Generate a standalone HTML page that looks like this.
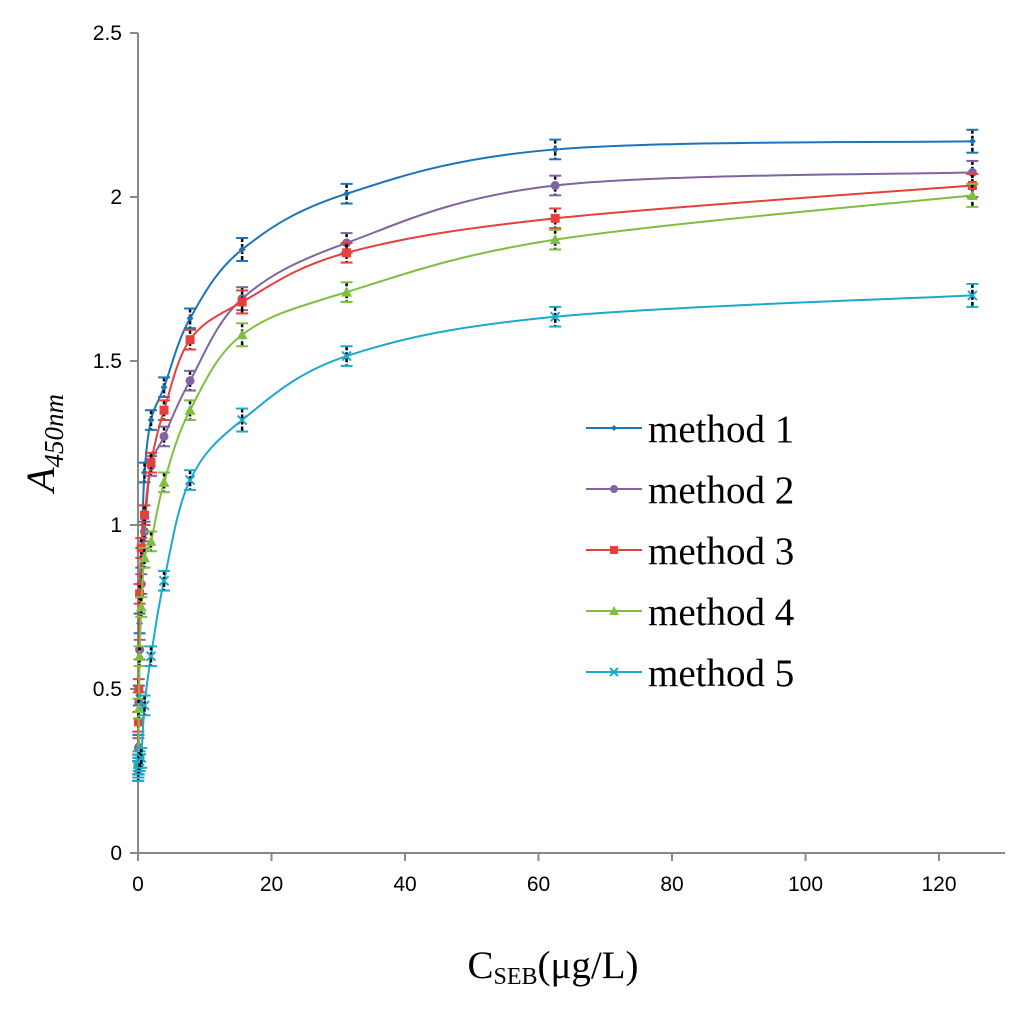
<!DOCTYPE html>
<html><head><meta charset="utf-8"><style>
html,body{margin:0;padding:0;background:#fff;}
svg{display:block;}
</style></head><body>
<svg id="chart" width="1024" height="1014" xmlns="http://www.w3.org/2000/svg">
<g id="axes"></g><g id="series"></g><g id="legend"></g>
<text transform="translate(54,443) rotate(-90)" text-anchor="middle" font-family="Liberation Serif, serif" font-style="italic" font-size="40">A<tspan font-size="27" dy="9">450nm</tspan></text>
<text x="553" y="978" text-anchor="middle" font-family="Liberation Serif, serif" font-size="39">C<tspan font-size="24" dy="6">SEB</tspan><tspan dy="-6">(μg/L)</tspan></text>
</svg>
<script>
const xs = [0.03,0.06,0.12,0.24,0.49,0.98,1.95,3.9,7.8,15.6,31.25,62.5,125];
const m1 = [0.25,0.33,0.48,0.70,0.90,1.16,1.32,1.42,1.63,1.84,2.01,2.145,2.17];
const m2 = [0.27,0.32,0.46,0.62,0.82,0.98,1.18,1.27,1.44,1.69,1.86,2.035,2.075];
const m3 = [0.27,0.40,0.50,0.79,0.93,1.03,1.19,1.35,1.565,1.68,1.83,1.935,2.035];
const m4 = [0.27,0.28,0.44,0.60,0.75,0.90,0.95,1.13,1.35,1.58,1.71,1.87,2.005];
const m5 = [0.25,0.26,0.27,0.28,0.29,0.45,0.60,0.83,1.137,1.32,1.515,1.635,1.70];
const errs = [0.03,0.03,0.03,0.03,0.03,0.03,0.03,0.03,0.03,0.035,0.03,0.03,0.035];
const xTicks = [0,20,40,60,80,100,120];
const yTicks = [0,0.5,1,1.5,2,2.5];
const names = ["method 1","method 2","method 3","method 4","method 5"];
const NS="http://www.w3.org/2000/svg";
const X = v => 138 + v*(939-138)/120;
const Y = v => 853 - v*328;
function mk(tag, attrs, parent){const e=document.createElementNS(NS,tag);for(const k in attrs)e.setAttribute(k,attrs[k]);parent.appendChild(e);return e;}
const axes=document.getElementById('axes');
const ax=mk('line',{x1:138,y1:33,x2:138,y2:853,stroke:'#888','stroke-width':2},axes);


const bx=mk('line',{x1:137,y1:853,x2:1005,y2:853,stroke:'#888','stroke-width':2},axes);


yTicks.forEach(t=>{
  mk('line',{x1:130,y1:Y(t),x2:138,y2:Y(t),stroke:'#888','stroke-width':2},axes);
  const tx=mk('text',{x:122,y:Y(t)+7,'text-anchor':'end','font-family':'Liberation Sans, sans-serif','font-size':21,fill:'#000'},axes);
  tx.textContent=t;
  
  
});
xTicks.forEach(t=>{
  mk('line',{x1:X(t),y1:853,x2:X(t),y2:861,stroke:'#888','stroke-width':2},axes);
  const tx=mk('text',{x:X(t),y:891,'text-anchor':'middle','font-family':'Liberation Sans, sans-serif','font-size':21,fill:'#000'},axes);
  tx.textContent=t;
  
  
});
const data=[m1,m2,m3,m4,m5];
const colors=['#1a74bb','#8064a2','#e5403b','#7fbf3f','#1ba9cf'];
const shapes=['diamond','circle','square','triangle','x'];
function marker(g,shape,cx,cy,c,s){
  if(shape==='diamond')mk('path',{d:`M${cx},${cy-s}L${cx+s},${cy}L${cx},${cy+s}L${cx-s},${cy}Z`,fill:c},g);
  else if(shape==='circle')mk('circle',{cx,cy,r:s,fill:c},g);
  else if(shape==='square')mk('rect',{x:cx-s,y:cy-s,width:2*s,height:2*s,fill:c},g);
  else if(shape==='triangle')mk('path',{d:`M${cx},${cy-s-1}L${cx+s+1},${cy+s}L${cx-s-1},${cy+s}Z`,fill:c},g);
  else mk('path',{d:`M${cx-s},${cy-s}L${cx+s},${cy+s}M${cx+s},${cy-s}L${cx-s},${cy+s}`,stroke:c,'stroke-width':2},g);
}
const sg=document.getElementById('series');
data.forEach((arr,i)=>{
  const g=mk('g',{},sg);
  
  
  const p=xs.map((x,j)=>[X(x),Y(arr[j])]);
  let d=`M${p[0][0]},${p[0][1]}`;
  for(let j=0;j<p.length-1;j++){
    const p0=p[Math.max(j-1,0)],p1=p[j],p2=p[j+1],p3=p[Math.min(j+2,p.length-1)];
    const c1=[p1[0]+(p2[0]-p0[0])/6,p1[1]+(p2[1]-p0[1])/6];
    const c2=[p2[0]-(p3[0]-p1[0])/6,p2[1]-(p3[1]-p1[1])/6];
    d+=`C${c1[0]},${c1[1]} ${c2[0]},${c2[1]} ${p2[0]},${p2[1]}`;
  }
  const ln=mk('path',{d,fill:'none',stroke:colors[i],'stroke-width':2},g);
  
  
  xs.forEach((x,j)=>{
    const cx=X(x),cy=Y(arr[j]),e=errs[j]*328;
    mk('line',{x1:cx,y1:cy-e,x2:cx,y2:cy+e,stroke:'#000','stroke-width':2.5,'stroke-dasharray':'4,2'},g);
    mk('line',{x1:cx-6,y1:cy-e,x2:cx+6,y2:cy-e,stroke:colors[i],'stroke-width':2},g);
    mk('line',{x1:cx-6,y1:cy+e,x2:cx+6,y2:cy+e,stroke:colors[i],'stroke-width':2},g);
    const mg=mk('g',{},g);
    
    
    marker(mg,shapes[i],cx,cy,colors[i],i===0?3.5:4.5);
  });
});
const lg=document.getElementById('legend');


names.forEach((n,i)=>{
  const y=428+i*61;
  const eg=mk('g',{},lg);
  
  
  mk('line',{x1:586,y1:y,x2:642,y2:y,stroke:colors[i],'stroke-width':2},eg);
  marker(eg,shapes[i],614,y,colors[i],i===0?3:4);
  const t=mk('text',{x:648,y:y+14,'font-family':'Liberation Serif, serif','font-size':39,fill:'#000'},eg);
  t.textContent=n;
});
</script>
</body></html>
